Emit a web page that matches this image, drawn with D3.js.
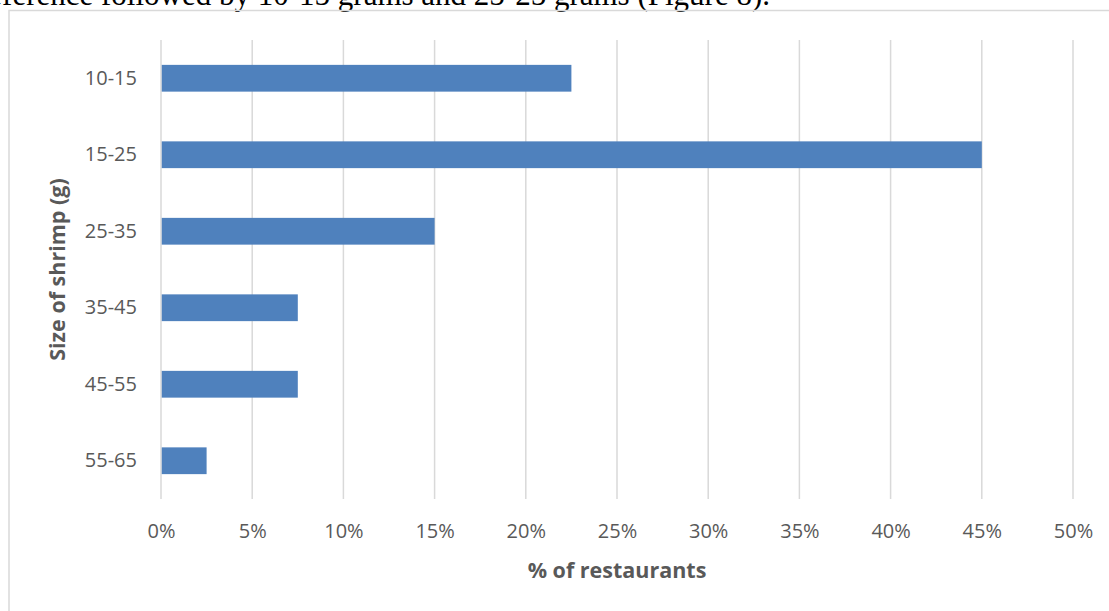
<!DOCTYPE html>
<html>
<head>
<meta charset="utf-8">
<script src="https://cdn.jsdelivr.net/npm/d3@7"></script>
<style>
  html, body { margin: 0; padding: 0; background: #fff; }
  svg { display: block; }
</style>
</head>
<body>
<svg id="chart" width="1109" height="611"></svg>
<script>
// Shrimp size categories and share of restaurants (%)
const sizes = ["10-15", "15-25", "25-35", "35-45", "45-55", "55-65"];
const shares = [22.5, 45, 15, 7.5, 7.5, 2.5];
const xTicks = [0, 5, 10, 15, 20, 25, 30, 35, 40, 45, 50];

const svg = d3.select("#chart");
const W = 1109, H = 611;

// Preceding line of body text above the figure
svg.append("text")
  .attr("x", 770).attr("y", 5)
  .attr("text-anchor", "end")
  .attr("font-family", "'Liberation Serif', 'Times New Roman', serif")
  .attr("font-size", 31)
  .attr("fill", "#000")
  .text("Shrimp of 15-25 grams were the most common preference followed by 10-15 grams and 25-25 grams (Figure 8).");

// Chart frame
svg.append("rect")
  .attr("x", 9).attr("y", 10.5)
  .attr("width", W + 20).attr("height", H + 20)
  .attr("fill", "none")
  .attr("stroke", "#d9d9d9")
  .attr("stroke-width", 1.5);

const plot = { left: 161, right: 1073, top: 40, bottom: 499 };

const x = d3.scaleLinear().domain([0, 50]).range([plot.left, plot.right]);
const y = d3.scaleBand().domain(sizes).range([plot.top, plot.bottom]).paddingInner(0.65).paddingOuter(0.325);

const font = "'Open Sans', 'Noto Sans', sans-serif";

// Vertical gridlines
svg.append("g")
  .selectAll("line")
  .data(xTicks)
  .join("line")
  .attr("x1", d => x(d)).attr("x2", d => x(d))
  .attr("y1", plot.top).attr("y2", plot.bottom)
  .attr("stroke", "#d9d9d9")
  .attr("stroke-width", 1.5);

// Bars
svg.append("g")
  .selectAll("rect")
  .data(sizes)
  .join("rect")
  .attr("x", x(0) + 0.75)
  .attr("y", d => y(d))
  .attr("width", (d, i) => x(shares[i]) - x(0) - 0.75)
  .attr("height", y.bandwidth())
  .attr("fill", "#4f81bd");

// X axis tick labels
const xAxis = svg.append("g")
  .attr("transform", `translate(0,${plot.bottom})`)
  .call(d3.axisBottom(x).tickValues(xTicks).tickFormat(d => d + "%").tickSize(0).tickPadding(25));
xAxis.select(".domain").remove();
xAxis.selectAll("text")
  .attr("font-family", font)
  .attr("font-size", 20)
  .attr("fill", "#595959");

// Y axis category labels
const yAxis = svg.append("g")
  .attr("transform", `translate(${plot.left},0)`)
  .call(d3.axisLeft(y).tickSize(0).tickPadding(24));
yAxis.select(".domain").remove();
yAxis.selectAll("text")
  .attr("font-family", font)
  .attr("font-size", 20)
  .attr("fill", "#595959");

// Axis titles
svg.append("text")
  .attr("x", 617).attr("y", 577.5)
  .attr("text-anchor", "middle")
  .attr("font-family", font)
  .attr("font-size", 21.5)
  .attr("font-weight", "bold")
  .attr("fill", "#595959")
  .text("% of restaurants");

svg.append("text")
  .attr("transform", `translate(65,${(plot.top + plot.bottom) / 2}) rotate(-90)`)
  .attr("text-anchor", "middle")
  .attr("font-family", font)
  .attr("font-size", 21.5)
  .attr("font-weight", "bold")
  .attr("fill", "#595959")
  .text("Size of shrimp (g)");
</script>
</body>
</html>
